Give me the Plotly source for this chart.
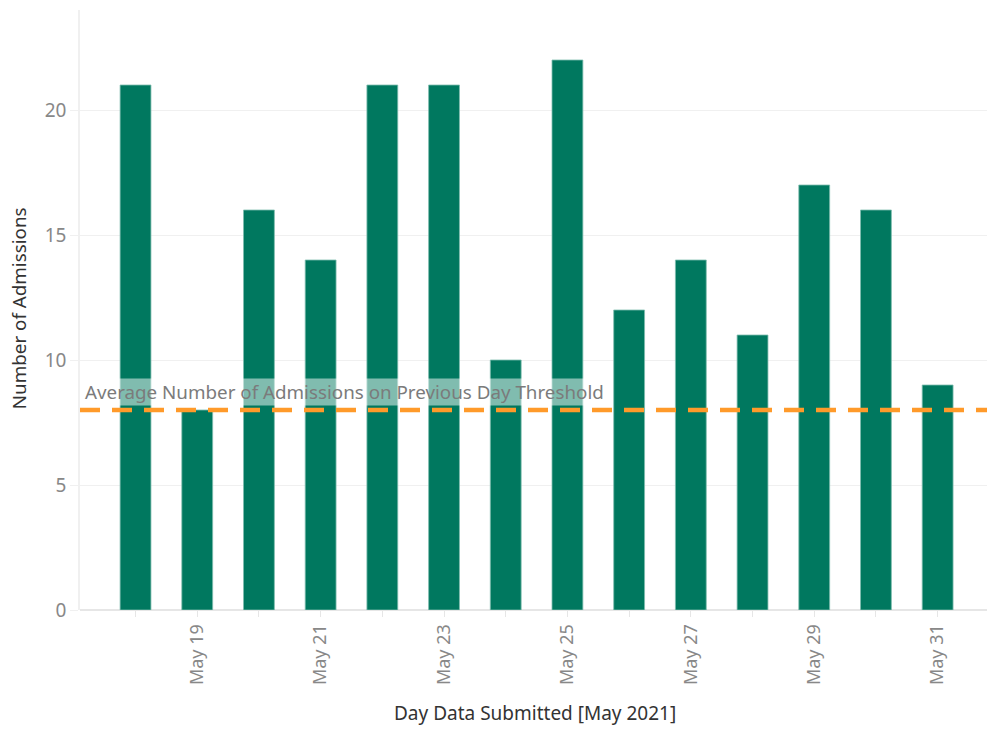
import plotly.graph_objects as go

days = ["May 18", "May 19", "May 20", "May 21", "May 22", "May 23", "May 24",
        "May 25", "May 26", "May 27", "May 28", "May 29", "May 30", "May 31"]
admissions = [21, 8, 16, 14, 21, 21, 10, 22, 12, 14, 11, 17, 16, 9]
threshold = 8
threshold_label = "Average Number of Admissions on Previous Day Threshold"
y_ticks = [0, 5, 10, 15, 20]

xpos = list(range(len(days)))
ticktext = [d if i % 2 == 1 else "" for i, d in enumerate(days)]

fig = go.Figure()
fig.add_trace(go.Bar(
    x=xpos, y=admissions, width=0.5,
    marker=dict(color="#00785f", line=dict(color="#7fbcae", width=0.8)),
    hovertext=days, showlegend=False,
))

fig.add_shape(type="line", xref="paper", x0=0, x1=1, yref="y", y0=threshold, y1=threshold,
              line=dict(color="#ff9a2a", width=4.5, dash="20px,12px"))
fig.add_annotation(xref="paper", x=0, y=threshold, xanchor="left", yanchor="bottom",
                   xshift=4, yshift=4, text=threshold_label, showarrow=False,
                   font=dict(family="Noto Sans", size=18.8, color="#7b7b7b"),
                   bgcolor="rgba(255,255,255,0.5)", borderpad=0)

# axis titles
fig.add_annotation(xref="paper", yref="paper", x=0.502, y=0, yshift=-103,
                   text="Day Data Submitted [May 2021]", showarrow=False,
                   xanchor="center", yanchor="middle",
                   font=dict(family="Noto Sans", size=19, color="#333333"))
fig.add_annotation(xref="paper", yref="paper", x=0, xshift=-61, y=0.503,
                   text="Number of Admissions", showarrow=False, textangle=-90,
                   xanchor="center", yanchor="middle",
                   font=dict(family="Noto Sans", size=18.8, color="#333333"))

fig.update_layout(
    width=987, height=730,
    margin=dict(l=80, r=0, t=10, b=120),
    plot_bgcolor="white", paper_bgcolor="white",
    font=dict(family="Noto Sans", color="#888888"),
    xaxis=dict(
        range=[-0.9, 13.8], tickmode="array", tickvals=xpos, ticktext=ticktext,
        tickangle=-90, tickfont=dict(size=18, color="#888888"),
        ticks="outside", ticklen=6, tickcolor="#e6e6e6",
        showgrid=False, zeroline=False, showline=False, automargin=False,
    ),
    yaxis=dict(
        range=[0, 24], tickvals=y_ticks, tickfont=dict(size=19, color="#888888"),
        ticks="outside", ticklen=8, tickcolor="#f0f0f0",
        showgrid=True, gridcolor="#f0f0f0", gridwidth=1,
        zeroline=True, zerolinecolor="#e6e6e6", zerolinewidth=1.5,
        showline=True, linecolor="#f0f0f0", linewidth=1.5, automargin=False,
    ),
)

fig.write_html("out.html", config={"displayModeBar": False},
               post_script="document.body.style.margin='0px';")
